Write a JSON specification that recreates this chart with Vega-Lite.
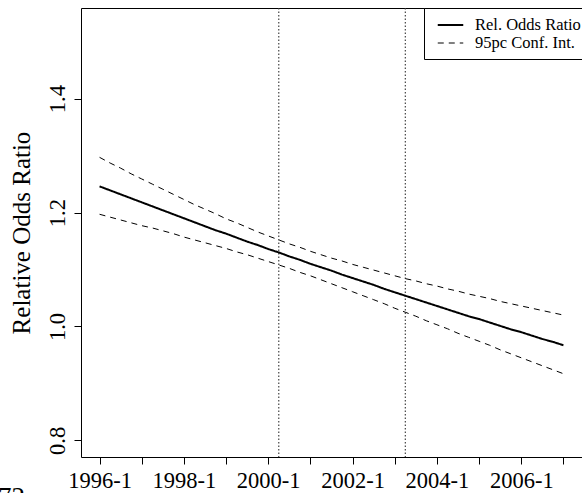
{
  "$schema": "https://vega.github.io/schema/vega-lite/v6.json",
  "width": 501,
  "height": 449,
  "autosize": {"type": "none"},
  "padding": {"left": 81, "top": 8, "right": 0, "bottom": 36},
  "background": "white",
  "config": {
    "view": {"stroke": "black", "strokeWidth": 1},
    "font": "Liberation Serif"
  },
  "title": {
    "text": "72",
    "orient": "bottom",
    "anchor": "start",
    "frame": "group",
    "font": "Liberation Serif",
    "fontSize": 27,
    "fontWeight": "normal",
    "color": "black",
    "baseline": "top",
    "dx": -83,
    "offset": -7
  },
  "layer": [
    {
      "data": {"values": [{"q": 2000.25}, {"q": 2003.25}]},
      "mark": {"type": "rule", "color": "#333", "strokeWidth": 1.1, "strokeDash": [1.5, 2]},
      "encoding": {
        "x": {"field": "q", "type": "quantitative", "title": null}
      }
    },
    {
      "data": {
        "values": [
          {"q": 1996.00, "ratio": 1.246, "lower": 1.197, "upper": 1.297},
          {"q": 1996.25, "ratio": 1.239, "lower": 1.192, "upper": 1.287},
          {"q": 1996.50, "ratio": 1.232, "lower": 1.187, "upper": 1.278},
          {"q": 1996.75, "ratio": 1.225, "lower": 1.182, "upper": 1.268},
          {"q": 1997.00, "ratio": 1.218, "lower": 1.177, "upper": 1.259},
          {"q": 1997.25, "ratio": 1.211, "lower": 1.173, "upper": 1.250},
          {"q": 1997.50, "ratio": 1.204, "lower": 1.168, "upper": 1.241},
          {"q": 1997.75, "ratio": 1.197, "lower": 1.163, "upper": 1.232},
          {"q": 1998.00, "ratio": 1.190, "lower": 1.157, "upper": 1.223},
          {"q": 1998.25, "ratio": 1.183, "lower": 1.152, "upper": 1.214},
          {"q": 1998.50, "ratio": 1.176, "lower": 1.147, "upper": 1.206},
          {"q": 1998.75, "ratio": 1.169, "lower": 1.142, "upper": 1.198},
          {"q": 1999.00, "ratio": 1.163, "lower": 1.137, "upper": 1.189},
          {"q": 1999.25, "ratio": 1.156, "lower": 1.131, "upper": 1.182},
          {"q": 1999.50, "ratio": 1.149, "lower": 1.126, "upper": 1.174},
          {"q": 1999.75, "ratio": 1.143, "lower": 1.120, "upper": 1.166},
          {"q": 2000.00, "ratio": 1.136, "lower": 1.114, "upper": 1.159},
          {"q": 2000.25, "ratio": 1.130, "lower": 1.108, "upper": 1.152},
          {"q": 2000.50, "ratio": 1.123, "lower": 1.102, "upper": 1.145},
          {"q": 2000.75, "ratio": 1.117, "lower": 1.095, "upper": 1.139},
          {"q": 2001.00, "ratio": 1.110, "lower": 1.089, "upper": 1.132},
          {"q": 2001.25, "ratio": 1.104, "lower": 1.082, "upper": 1.126},
          {"q": 2001.50, "ratio": 1.098, "lower": 1.075, "upper": 1.120},
          {"q": 2001.75, "ratio": 1.091, "lower": 1.068, "upper": 1.115},
          {"q": 2002.00, "ratio": 1.085, "lower": 1.061, "upper": 1.109},
          {"q": 2002.25, "ratio": 1.079, "lower": 1.054, "upper": 1.104},
          {"q": 2002.50, "ratio": 1.073, "lower": 1.047, "upper": 1.099},
          {"q": 2002.75, "ratio": 1.066, "lower": 1.040, "upper": 1.094},
          {"q": 2003.00, "ratio": 1.060, "lower": 1.032, "upper": 1.089},
          {"q": 2003.25, "ratio": 1.054, "lower": 1.025, "upper": 1.084},
          {"q": 2003.50, "ratio": 1.048, "lower": 1.018, "upper": 1.080},
          {"q": 2003.75, "ratio": 1.042, "lower": 1.010, "upper": 1.075},
          {"q": 2004.00, "ratio": 1.036, "lower": 1.003, "upper": 1.071},
          {"q": 2004.25, "ratio": 1.030, "lower": 0.996, "upper": 1.066},
          {"q": 2004.50, "ratio": 1.024, "lower": 0.988, "upper": 1.062},
          {"q": 2004.75, "ratio": 1.018, "lower": 0.981, "upper": 1.057},
          {"q": 2005.00, "ratio": 1.013, "lower": 0.974, "upper": 1.053},
          {"q": 2005.25, "ratio": 1.007, "lower": 0.967, "upper": 1.049},
          {"q": 2005.50, "ratio": 1.001, "lower": 0.959, "upper": 1.044},
          {"q": 2005.75, "ratio": 0.995, "lower": 0.952, "upper": 1.040},
          {"q": 2006.00, "ratio": 0.990, "lower": 0.945, "upper": 1.036},
          {"q": 2006.25, "ratio": 0.984, "lower": 0.938, "upper": 1.032},
          {"q": 2006.50, "ratio": 0.978, "lower": 0.931, "upper": 1.028},
          {"q": 2006.75, "ratio": 0.973, "lower": 0.924, "upper": 1.024},
          {"q": 2007.00, "ratio": 0.967, "lower": 0.917, "upper": 1.020}
        ]
      },
      "transform": [
        {"fold": ["ratio", "lower", "upper"], "as": ["band", "value"]}
      ],
      "mark": {"type": "line", "color": "black", "strokeCap": "butt"},
      "encoding": {
        "x": {
          "field": "q",
          "type": "quantitative",
          "title": null,
          "scale": {"domain": [1995.56, 2007.44], "nice": false, "zero": false},
          "axis": {
            "domain": false,
            "grid": false,
            "values": [1996, 1996.25, 1996.5, 1996.75, 1997, 1997.25, 1997.5, 1997.75, 1998, 1998.25, 1998.5, 1998.75, 1999, 1999.25, 1999.5, 1999.75, 2000, 2000.25, 2000.5, 2000.75, 2001, 2001.25, 2001.5, 2001.75, 2002, 2002.25, 2002.5, 2002.75, 2003, 2003.25, 2003.5, 2003.75, 2004, 2004.25, 2004.5, 2004.75, 2005, 2005.25, 2005.5, 2005.75, 2006, 2006.25, 2006.5, 2006.75, 2007],
            "labelExpr": "datum.value == floor(datum.value) && floor(datum.value) % 2 == 0 ? datum.value + '-1' : ''",
            "tickSize": 7,
            "tickColor": "black",
            "tickWidth": 1,
            "labelFont": "Liberation Serif",
            "labelFontSize": 22.5,
            "labelColor": "black",
            "labelBaseline": "alphabetic",
            "labelAlign": "center",
            "labelPadding": 23,
            "labelOverlap": false,
            "labelFlush": false,
            "labelBound": false
          }
        },
        "y": {
          "field": "value",
          "type": "quantitative",
          "title": "Relative Odds Ratio",
          "scale": {"domain": [0.7708, 1.5592], "nice": false, "zero": false},
          "axis": {
            "domain": false,
            "grid": false,
            "values": [0.8, 1.0, 1.2, 1.4],
            "format": ".1f",
            "tickSize": 7,
            "tickColor": "black",
            "tickWidth": 1,
            "labelFont": "Liberation Serif",
            "labelFontSize": 22.5,
            "labelColor": "black",
            "labelAngle": 270,
            "labelAlign": "center",
            "labelBaseline": "alphabetic",
            "labelPadding": 10,
            "labelOverlap": false,
            "labelFlush": false,
            "titleFont": "Liberation Serif",
            "titleFontSize": 25,
            "titleFontWeight": "normal",
            "titleColor": "black",
            "titleAngle": 270,
            "titleAlign": "center",
            "titleBaseline": "alphabetic",
            "titleX": -52,
            "titleY": 224.5
          }
        },
        "detail": {"field": "band", "type": "nominal"},
        "strokeDash": {
          "field": "band",
          "type": "nominal",
          "scale": {"domain": ["ratio", "lower", "upper"], "range": [[1, 0], [6, 5], [6, 5]]},
          "legend": {
            "values": ["ratio", "lower"],
            "title": null,
            "orient": "none",
            "legendX": 343,
            "legendY": 0,
            "direction": "vertical",
            "strokeColor": "black",
            "fillColor": "white",
            "padding": 7.5,
            "symbolType": "M-1.5,0H1.5",
            "symbolSize": 289,
            "symbolStrokeColor": "black",
            "symbolOffset": 9.5,
            "labelOffset": 15,
            "labelFont": "Liberation Serif",
            "labelFontSize": 16.5,
            "labelColor": "black",
            "labelLimit": 400,
            "rowPadding": 0.5,
            "labelExpr": "datum.label == 'ratio' ? 'Rel. Odds Ratio' : '95pc Conf. Int.'"
          }
        },
        "strokeWidth": {
          "field": "band",
          "type": "nominal",
          "scale": {"type": "ordinal", "domain": ["ratio", "lower", "upper"], "range": [2, 1, 1]},
          "legend": null
        }
      }
    }
  ]
}
